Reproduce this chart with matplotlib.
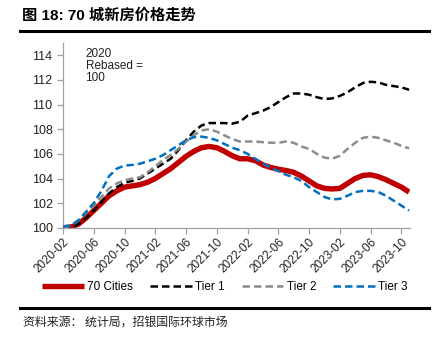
import matplotlib
matplotlib.use("Agg")
import matplotlib.pyplot as plt

plt.rcParams['font.family'] = ['Liberation Sans', 'Noto Sans CJK SC', 'DejaVu Sans']

months = ['2020-02', '2020-03', '2020-04', '2020-05', '2020-06', '2020-07', '2020-08', '2020-09',
          '2020-10', '2020-11', '2020-12', '2021-01', '2021-02', '2021-03', '2021-04', '2021-05',
          '2021-06', '2021-07', '2021-08', '2021-09', '2021-10', '2021-11', '2021-12', '2022-01',
          '2022-02', '2022-03', '2022-04', '2022-05', '2022-06', '2022-07', '2022-08', '2022-09',
          '2022-10', '2022-11', '2022-12', '2023-01', '2023-02', '2023-03', '2023-04', '2023-05',
          '2023-06', '2023-07', '2023-08', '2023-09', '2023-10', '2023-11']

cities70 = [100.0, 100.05, 100.3, 100.8, 101.4, 102.0, 102.6, 103.0, 103.3, 103.4, 103.5, 103.7,
            104.0, 104.4, 104.8, 105.3, 105.8, 106.2, 106.5, 106.6, 106.5, 106.2, 105.85, 105.6,
            105.6, 105.45, 105.1, 104.9, 104.75, 104.65, 104.5, 104.2, 103.8, 103.4, 103.2, 103.15,
            103.2, 103.6, 104.0, 104.25, 104.3, 104.15, 103.9, 103.6, 103.3, 102.9]
tier1 = [100.0, 100.0, 100.3, 100.8, 101.4, 102.1, 102.8, 103.3, 103.65, 103.8, 104.0, 104.4,
         104.8, 105.2, 105.6, 106.3, 107.1, 107.8, 108.3, 108.5, 108.5, 108.5, 108.45, 108.6,
         109.1, 109.3, 109.5, 109.8, 110.2, 110.6, 110.9, 110.9, 110.8, 110.6, 110.45, 110.5,
         110.7, 111.0, 111.4, 111.75, 111.85, 111.8, 111.6, 111.5, 111.4, 111.2]
tier2 = [100.0, 100.15, 100.6, 101.2, 101.8, 102.5, 103.2, 103.6, 103.85, 104.0, 104.1, 104.5,
         105.0, 105.5, 105.9, 106.4, 107.0, 107.5, 107.9, 108.0, 107.8, 107.5, 107.2, 107.0,
         107.0, 107.0, 106.95, 106.9, 106.9, 107.0, 106.9, 106.6, 106.4, 106.0, 105.7, 105.6,
         105.85, 106.4, 106.9, 107.3, 107.4, 107.3, 107.1, 106.9, 106.65, 106.45]
tier3 = [100.1, 100.2, 100.6, 101.3, 102.0, 103.0, 104.2, 104.8, 105.05, 105.1, 105.2, 105.4,
         105.6, 105.9, 106.3, 106.7, 107.1, 107.35, 107.4, 107.3, 107.1, 106.8, 106.5, 106.3,
         106.0, 105.6, 105.2, 104.9, 104.6, 104.3, 104.1, 103.8, 103.3, 102.9, 102.5, 102.3,
         102.35, 102.6, 102.9, 103.0, 103.0, 102.9, 102.6, 102.2, 101.8, 101.4]

series_names = ['70 Cities', 'Tier 1', 'Tier 2', 'Tier 3']
yticks = [100, 102, 104, 106, 108, 110, 112, 114]

title = '图 18: 70 城新房价格走势'
source = '资料来源： 统计局，招银国际环球市场'
note = '2020\nRebased =\n100'

fig = plt.figure(figsize=(4.36, 3.41), dpi=100)
ax = fig.add_axes([0.1445, 0.332, 0.7955, 0.542])

x = list(range(len(months)))
ax.plot(x, cities70, color='#C00000', lw=3.9, solid_capstyle='butt', label=series_names[0], zorder=2)
ax.plot(x, tier1, color='#000000', lw=1.8, dashes=(3, 1.6), label=series_names[1], zorder=3)
ax.plot(x, tier2, color='#8C8C8C', lw=1.8, dashes=(3, 1.6), label=series_names[2], zorder=3)
ax.plot(x, tier3, color='#0070C0', lw=1.8, dashes=(3, 1.6), label=series_names[3], zorder=3)

ax.set_ylim(100, 115)
ax.set_xlim(0, 45.1)
ax.set_yticks(yticks)
ax.set_yticklabels([str(v) for v in yticks], fontsize=9)
tick_pos = list(range(0, len(months), 4))
ax.set_xticks(tick_pos)
ax.set_xticklabels([months[i] for i in tick_pos], rotation=45, ha='right',
                   rotation_mode='anchor', fontsize=8.5)
for s in ['top', 'right']:
    ax.spines[s].set_visible(False)
for s in ['left', 'bottom']:
    ax.spines[s].set_color('#A0A0A0')
    ax.spines[s].set_linewidth(0.9)
ax.tick_params(axis='both', colors='#A0A0A0', labelcolor='#222222', length=4, width=0.9)
ax.tick_params(axis='x', pad=2)

ax.text(0.065, 0.975, note, transform=ax.transAxes, fontsize=8.5, va='top', ha='left',
        color='#222222', linespacing=1.05)

fig.legend(loc='center', bbox_to_anchor=(0.516, 0.159), ncol=4, frameon=False,
           fontsize=8.5, handlelength=3.5, columnspacing=1.45, handletextpad=0.3)

fig.text(0.05, 0.956, title, fontsize=11, fontweight='bold', ha='left', va='center',
         family=['Liberation Sans', 'Noto Sans CJK SC'])
fig.add_artist(plt.Line2D([0.046, 0.984], [0.909, 0.909], color='black', lw=2.2,
                          transform=fig.transFigure))
fig.add_artist(plt.Line2D([0.046, 0.984], [0.098, 0.098], color='black', lw=2.2,
                          transform=fig.transFigure))
fig.text(0.052, 0.055, source, fontsize=8.6, ha='left', va='center', color='#222222',
         family=['Noto Sans CJK SC', 'DejaVu Sans'])

fig.savefig('out.png', dpi=100)
